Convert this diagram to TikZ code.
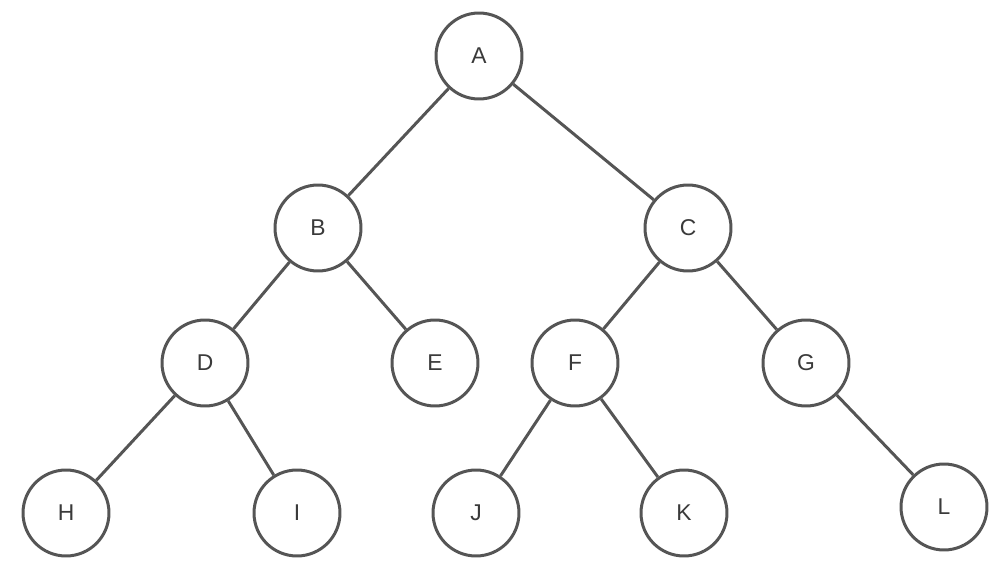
\documentclass[tikz,border=0pt]{standalone}
\usepackage{fontspec}
\setmainfont{Liberation Sans}
\usepackage{xcolor}
\definecolor{edge}{HTML}{555555}
\definecolor{ink}{HTML}{3A3A3A}

\begin{document}
\begin{tikzpicture}[x=0.02cm, y=-0.02cm,
    treenode/.style={circle, draw=edge, line width=1.7pt, minimum size=1.72cm,
      inner sep=0pt, fill=white, text=ink, font=\fontsize{13}{15}\selectfont},
    branch/.style={edge, line width=1.7pt}]
  \useasboundingbox (0,0) rectangle (1004,578);
  \node[treenode] (A) at (479,56) {A};
  \node[treenode] (B) at (318,228) {B};
  \node[treenode] (C) at (688,228) {C};
  \node[treenode] (D) at (205,363) {D};
  \node[treenode] (E) at (435,363) {E};
  \node[treenode] (F) at (575,363) {F};
  \node[treenode] (G) at (806,363) {G};
  \node[treenode] (H) at (66,513) {H};
  \node[treenode] (I) at (297,513) {I};
  \node[treenode] (J) at (476,513) {J};
  \node[treenode] (K) at (684,513) {K};
  \node[treenode] (L) at (944,507) {L};
  \draw[branch] (A) -- (B);
  \draw[branch] (A) -- (C);
  \draw[branch] (B) -- (D);
  \draw[branch] (B) -- (E);
  \draw[branch] (C) -- (F);
  \draw[branch] (C) -- (G);
  \draw[branch] (D) -- (H);
  \draw[branch] (D) -- (I);
  \draw[branch] (F) -- (J);
  \draw[branch] (F) -- (K);
  \draw[branch] (G) -- (L);
\end{tikzpicture}
\end{document}
